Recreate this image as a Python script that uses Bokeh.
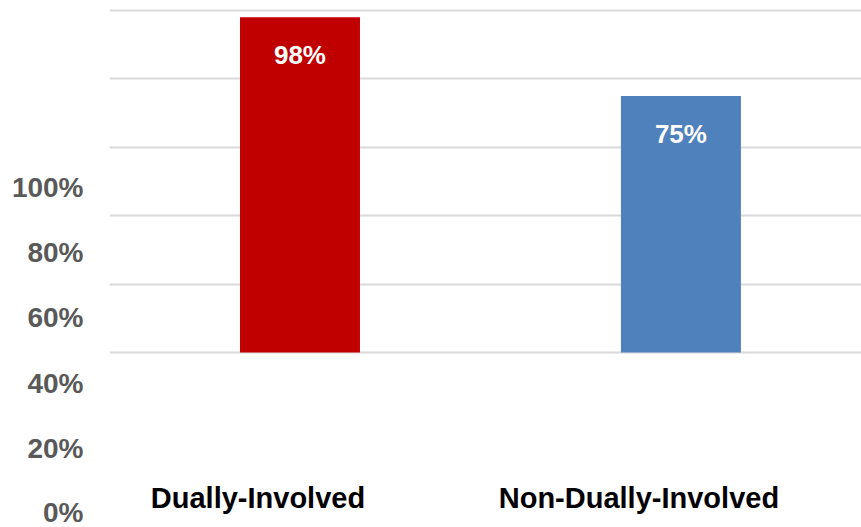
from bokeh.plotting import figure
from bokeh.models import (Range1d, LinearAxis, FixedTicker, Grid, ColumnDataSource,
                          LabelSet, PrintfTickFormatter)
from bokeh.core.properties import value
from bokeh.embed import file_html
from bokeh.resources import INLINE

categories = ["Dually-Involved", "Non-Dually-Involved"]
values = [98, 75]
bar_labels = ["98%", "75%"]
colors = ["#C00000", "#4F81BD"]
tick_values = [0, 20, 40, 60, 80, 100]

xpos = [i + 0.5 for i in range(len(categories))]
src = ColumnDataSource(dict(x=xpos, top=values, lab=bar_labels, color=colors,
                            cat=categories, base=[0] * len(categories)))

p = figure(width=861, height=527, output_backend="svg", toolbar_location=None,
           x_axis_location=None, y_axis_location=None,
           x_range=Range1d(0, 1.974), y_range=Range1d(-51.17, 102.92),
           min_border_left=109, min_border_right=0, min_border_top=0, min_border_bottom=0)
p.outline_line_color = None
p.background_fill_color = "white"
p.border_fill_color = "white"
for g in list(p.center):
    p.center.remove(g)

grid = Grid(dimension=1, ticker=FixedTicker(ticks=tick_values),
            grid_line_color="#D9D9D9", grid_line_width=2)
p.add_layout(grid, "center")

p.vbar(x="x", top="top", bottom="base", width=0.315, color="color", line_color=None, source=src)

p.add_layout(LabelSet(x="x", y="top", text="lab", source=src, y_offset=-38,
                      text_align="center", text_baseline="middle",
                      text_color="white", text_font=value("Liberation Sans"),
                      text_font_style="bold", text_font_size="26px"))

p.add_layout(LabelSet(x="x", y="base", text="cat", source=src, x_offset=-42, y_offset=-146,
                      text_align="center", text_baseline="middle",
                      text_color="black", text_font=value("Liberation Sans"),
                      text_font_style="bold", text_font_size="29px"))

p.extra_y_ranges = {"lab": Range1d(-4.29, 157.36)}
ax = LinearAxis(y_range_name="lab", ticker=FixedTicker(ticks=tick_values),
                formatter=PrintfTickFormatter(format="%d%%"))
ax.axis_line_color = None
ax.major_tick_line_color = None
ax.minor_tick_line_color = None
ax.major_tick_out = 0
ax.major_tick_in = 0
ax.major_label_standoff = 26
ax.major_label_text_font = "Liberation Sans"
ax.major_label_text_font_style = "bold"
ax.major_label_text_font_size = "28px"
ax.major_label_text_color = "#595959"
p.add_layout(ax, "left")

open("out.html", "w").write(file_html(p, INLINE))
